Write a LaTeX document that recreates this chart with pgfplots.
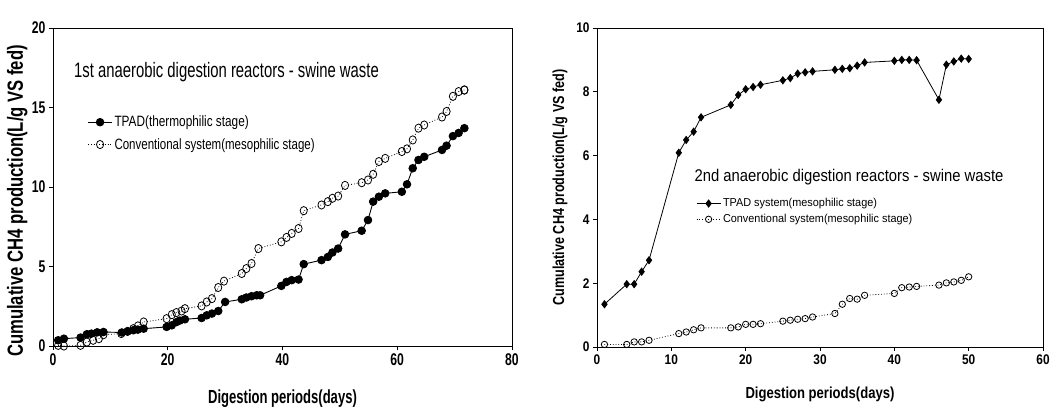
\documentclass[border=0pt]{standalone}
\usepackage{pgfplots}
\pgfplotsset{compat=1.18}
\usepackage{fontspec}
\setmainfont{Liberation Sans}
% squeezed text, as in the scanned figure
\newcommand{\sq}[2][0.72]{\scalebox{#1}[1]{#2}}

\pgfplotstableread{
d     tpad   dc    conv
0.9   0.36   0.9   0.04
1.9   0.46   1.9   0.00
4.8   0.53   4.8   0.04
5.9   0.74   5.9   0.25
6.7   0.78   7.0   0.36
7.7   0.86   8.0   0.46
8.8   0.88   8.8   0.71
12.0  0.85   11.9  0.78
13.0  0.92   13.0  0.92
14.0  0.99   14.0  1.09
14.8  1.03   14.8  1.26
15.8  1.09   15.8  1.51
19.8  1.20   19.8  1.72
20.7  1.30   20.7  1.97
21.5  1.50   21.5  2.10
22.1  1.60   22.4  2.20
23.0  1.68   23.0  2.35
25.9  1.76   25.9  2.52
26.8  1.93   26.8  2.77
27.7  2.04   27.7  2.98
28.8  2.20   28.8  3.68
30.0  2.77   29.8  4.08
32.9  2.94   32.9  4.56
33.7  3.05   33.7  4.87
34.6  3.13   34.6  5.19
35.5  3.19   35.8  6.13
36.1  3.19   39.8  6.55
39.8  3.78   40.7  6.83
40.7  4.03   41.6  7.08
41.6  4.14   42.8  7.39
42.8  4.18   43.7  8.51
43.7  5.15   46.8  8.87
46.8  5.40   47.9  9.08
47.9  5.60   48.7  9.29
48.7  5.88   49.7  9.43
49.7  6.13   50.9  10.10
50.9  7.02   53.8  10.27
53.8  7.25   54.9  10.44
54.9  7.92   55.8  10.80
55.8  9.08   56.8  11.60
56.8  9.39   57.9  11.80
57.9  9.60   60.8  12.23
60.8  9.70   61.7  12.40
61.7  10.17  62.7  12.96
62.7  11.18  63.7  13.70
63.7  11.70  64.7  13.90
64.7  11.90  67.8  14.40
67.8  12.33  68.6  14.75
68.6  12.60  69.7  15.70
69.7  13.20  70.7  16.00
70.7  13.40  71.7  16.10
71.7  13.70  71.7  16.10
}\first

\pgfplotstableread{
d  tpad  conv
1  1.34  0.08
4  1.97  0.08
5  1.97  0.16
6  2.36  0.16
7  2.72  0.21
11 6.09  0.42
12 6.49  0.47
13 6.75  0.54
14 7.20  0.60
18 7.59  0.60
19 7.90  0.63
20 8.08  0.71
21 8.15  0.71
22 8.22  0.73
25 8.36  0.81
26 8.43  0.84
27 8.57  0.87
28 8.61  0.89
29 8.64  0.94
32 8.69  1.05
33 8.72  1.34
34 8.74  1.52
35 8.82  1.50
36 8.92  1.62
40 8.97  1.68
41 9.00  1.86
42 9.00  1.88
43 8.99  1.90
46 7.75  1.94
47 8.85  2.01
48 8.95  2.04
49 9.04  2.09
50 9.03  2.20
}\second

\begin{document}
\begin{tikzpicture}
\useasboundingbox (0,0) rectangle (1056bp,418bp);

\pgfplotsset{
  every axis/.append style={
    scale only axis,
    axis line style={line width=0.9pt},
    tick style={black, line width=0.9pt},
    tick align=outside, xtick pos=bottom, ytick pos=left,
    major tick length=4bp,
    legend cell align=left,
    legend image code/.code={\draw[mark repeat=2,mark phase=2,##1]
        plot coordinates {(0bp,0bp) (12bp,0bp) (24bp,0bp)};},
  },
}

% ---- 1st reactors
\begin{axis}[
  at={(53bp,72bp)}, anchor=south west,
  width=459bp, height=318bp,
  xmin=0, xmax=80, ymin=0, ymax=20,
  xtick={0,20,40,60,80}, ytick={0,5,10,15,20},
  xticklabels={\sq{0},\sq{20},\sq{40},\sq{60},\sq{80}},
  yticklabels={\sq{0},\sq{5},\sq{10},\sq{15},\sq{20}},
  ticklabel style={font=\bfseries\fontsize{17}{17}\selectfont},
  xlabel={\sq[0.69]{Digestion periods(days)}},
  xlabel style={font=\bfseries\fontsize{19}{19}\selectfont,
    at={(axis description cs:0.5,-0.165)}, anchor=center},
  ylabel={\sq[0.76]{Cumulative CH4 production(L/g VS fed)}},
  ylabel style={font=\bfseries\fontsize{22}{22}\selectfont,
    at={(axis description cs:-0.078,0.456)}, anchor=center},
  legend style={at={(axis description cs:0.075,0.73)}, anchor=north west,
    draw=none, fill=none, inner sep=0pt, row sep=6bp,
    font=\fontsize{15}{15}\selectfont},
]
\addplot[black, line width=0.9pt, mark=*, mark size=3.8pt]
  table[x=d, y=tpad] {\first};
\addlegendentry{\sq[0.79]{TPAD(thermophilic stage)}}
\addplot[black, line width=0.8pt, dotted, mark=o, mark size=3.6pt,
  mark options={solid, yscale=1.15}]
  table[x=dc, y=conv] {\first};
\addlegendentry{\sq[0.77]{Conventional system(mesophilic stage)}}
\node[anchor=center, font=\fontsize{21}{21}\selectfont]
  at (axis description cs:0.378,0.862)
  {\sq[0.71]{1st anaerobic digestion reactors - swine waste}};
\end{axis}

% ---- 2nd reactors
\begin{axis}[
  at={(597bp,71bp)}, anchor=south west,
  width=446bp, height=319bp,
  xmin=0, xmax=60, ymin=0, ymax=10,
  xtick={0,10,20,30,40,50,60}, ytick={0,2,4,6,8,10},
  xticklabels={\sq[0.85]{0},\sq[0.85]{10},\sq[0.85]{20},\sq[0.85]{30},\sq[0.85]{40},\sq[0.85]{50},\sq[0.85]{60}},
  yticklabels={\sq[0.85]{0},\sq[0.85]{2},\sq[0.85]{4},\sq[0.85]{6},\sq[0.85]{8},\sq[0.85]{10}},
  ticklabel style={font=\bfseries\fontsize{14}{14}\selectfont},
  xlabel={\sq[0.82]{Digestion periods(days)}},
  xlabel style={font=\bfseries\fontsize{16}{16}\selectfont,
    at={(axis description cs:0.5,-0.15)}, anchor=center},
  ylabel={\sq[0.79]{Cumulative CH4 production(L/g VS fed)}},
  ylabel style={font=\bfseries\fontsize{16}{16}\selectfont,
    at={(axis description cs:-0.083,0.5)}, anchor=center},
  legend style={at={(axis description cs:0.222,0.472)}, anchor=north west,
    draw=none, fill=none, inner sep=0pt, row sep=2bp,
    font=\fontsize{11.5}{11.5}\selectfont},
]
\addplot[black, line width=0.8pt, mark=diamond*, mark size=3.6pt]
  table[x=d, y=tpad] {\second};
\addlegendentry{\sq[0.95]{TPAD system(mesophilic stage)}}
\addplot[black, line width=0.8pt, dotted, mark=o, mark size=3.2pt,
  mark options={solid}]
  table[x=d, y=conv] {\second};
\addlegendentry{\sq[0.95]{Conventional system(mesophilic stage)}}
\node[anchor=center, font=\fontsize{17}{17}\selectfont]
  at (axis description cs:0.565,0.533)
  {\sq[0.875]{2nd anaerobic digestion reactors - swine waste}};
\end{axis}
\end{tikzpicture}
\end{document}
